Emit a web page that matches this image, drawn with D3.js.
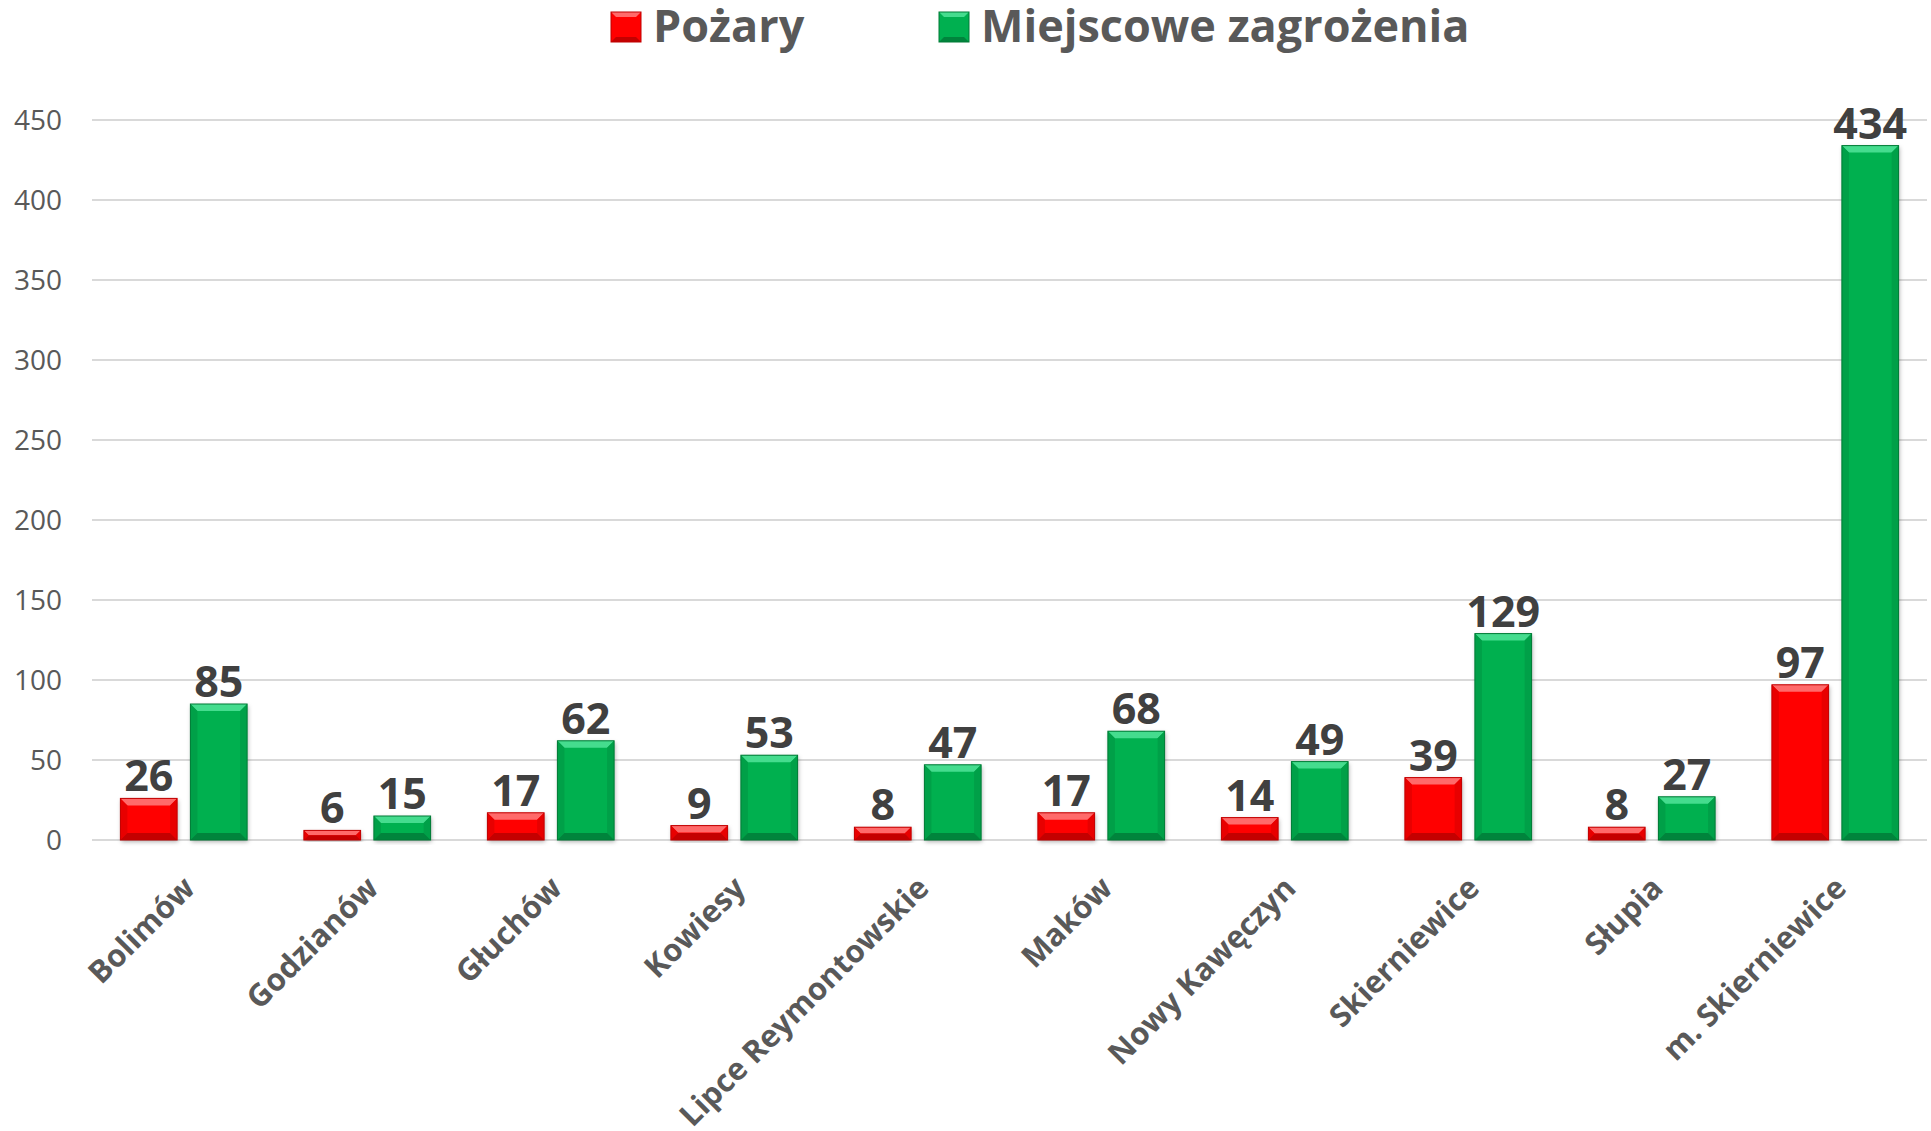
<!DOCTYPE html>
<html lang="pl">
<head>
    <meta charset="UTF-8">
    <title>Pożary i miejscowe zagrożenia</title>
    <script src="https://d3js.org/d3.v7.min.js"></script>
</head>
<body style="margin:0;background:#fff;">
<style>
    svg { font-family: "Open Sans", sans-serif; }
    .grid line { stroke: #d9d9d9; stroke-width: 2; }
    .yaxis text { fill: #595959; font-size: 28px; }
    .xaxis text { fill: #595959; font-size: 31px; font-weight: bold; }
    .val { fill: #404040; font-size: 43px; font-weight: bold; }
    .legend text { fill: #595959; font-size: 45px; font-weight: bold; }
</style>

<div id="chart"></div>

<script>
    // data
    var gminy = ["Bolimów", "Godzianów", "Głuchów", "Kowiesy", "Lipce Reymontowskie",
                 "Maków", "Nowy Kawęczyn", "Skierniewice", "Słupia", "m. Skierniewice"];
    var pozary = [26, 6, 17, 9, 8, 17, 14, 39, 8, 97];
    var zagrozenia = [85, 15, 62, 53, 47, 68, 49, 129, 27, 434];
    var seriesNames = ["Pożary", "Miejscowe zagrożenia"];
    var yTicks = [0, 50, 100, 150, 200, 250, 300, 350, 400, 450];

    // colors: main, top bevel, side, bottom, border
    var palette = {
        "Pożary": {main: "#ff0000", top: "#ff6a6a", side: "#e80000", bottom: "#c40000", line: "#c00000"},
        "Miejscowe zagrożenia": {main: "#00b050", top: "#45dc8e", side: "#00a048", bottom: "#00843c", line: "#007a36"}
    };

    var W = 1931, H = 1131;
    var plotLeft = 92, plotRight = 1927, plotTop = 120, plotBottom = 840;

    var svg = d3.select("#chart").append("svg")
        .attr("width", W)
        .attr("height", H);

    var defs = svg.append("defs");
    var f = defs.append("filter").attr("id", "shadow")
        .attr("x", "-20%").attr("y", "-20%").attr("width", "140%").attr("height", "140%");
    f.append("feDropShadow").attr("dx", 1).attr("dy", 2).attr("stdDeviation", 2)
        .attr("flood-color", "#000").attr("flood-opacity", 0.3);

    var y = d3.scaleLinear().domain([0, 450]).range([plotBottom, plotTop]);
    var x0 = d3.scaleBand().domain(gminy).range([plotLeft, plotRight]);
    var pad = 28.4;
    var x1 = d3.scaleBand().domain(seriesNames)
        .range([pad, x0.bandwidth() - pad]).paddingInner(0.19);

    // grid lines
    svg.append("g").attr("class", "grid")
        .selectAll("line").data(yTicks).enter().append("line")
        .attr("x1", plotLeft).attr("x2", plotRight)
        .attr("y1", function(d){ return y(d); })
        .attr("y2", function(d){ return y(d); });

    // y axis labels
    var yAxis = svg.append("g").attr("class", "yaxis")
        .attr("transform", "translate(62,0)")
        .call(d3.axisLeft(y).tickValues(yTicks).tickSize(0).tickPadding(0));
    yAxis.attr("font-family", null).attr("font-size", null);
    yAxis.select(".domain").remove();
    yAxis.selectAll("text").attr("dy", "0.35em");

    // x axis labels
    var xAxis = svg.append("g").attr("class", "xaxis")
        .attr("transform", "translate(0," + plotBottom + ")")
        .call(d3.axisBottom(x0).tickSize(0));
    xAxis.attr("font-family", null).attr("font-size", null);
    xAxis.select(".domain").remove();
    xAxis.selectAll("text")
        .style("text-anchor", "end")
        .attr("dy", null).attr("y", 0)
        .attr("transform", "translate(13,50) rotate(-45)");

    // table of bars
    var rows = [];
    gminy.forEach(function(g, i){
        rows.push({gmina: g, s: seriesNames[0], v: pozary[i]});
        rows.push({gmina: g, s: seriesNames[1], v: zagrozenia[i]});
    });

    var bars = svg.append("g").selectAll("g.bar").data(rows).enter().append("g")
        .attr("class", "bar")
        .attr("transform", function(d){ return "translate(" + (x0(d.gmina) + x1(d.s)) + "," + y(d.v) + ")"; });

    var bw = x1.bandwidth();
    bars.each(function(d){
        var g = d3.select(this);
        var h = plotBottom - y(d.v);
        var b = Math.min(7, h / 2);
        var c = palette[d.s];
        g.append("rect").attr("width", bw).attr("height", h)
            .attr("fill", c.main).attr("filter", "url(#shadow)");
        // bevels
        g.append("polygon").attr("fill", c.top)
            .attr("points", [[0,0],[bw,0],[bw-b,b],[b,b]].join(" "));
        g.append("polygon").attr("fill", c.side)
            .attr("points", [[0,0],[b,b],[b,h-b],[0,h]].join(" "));
        g.append("polygon").attr("fill", c.side)
            .attr("points", [[bw,0],[bw-b,b],[bw-b,h-b],[bw,h]].join(" "));
        g.append("polygon").attr("fill", c.bottom)
            .attr("points", [[0,h],[b,h-b],[bw-b,h-b],[bw,h]].join(" "));
        g.append("rect").attr("width", bw).attr("height", h)
            .attr("fill", "none").attr("stroke", c.line).attr("stroke-width", 1);
    });

    // value labels
    svg.append("g").selectAll("text").data(rows).enter().append("text")
        .attr("class", "val")
        .attr("text-anchor", "middle")
        .attr("x", function(d){ return x0(d.gmina) + x1(d.s) + bw / 2; })
        .attr("y", function(d){ return y(d.v) - 7; })
        .text(function(d){ return d.v; });

    // legend
    var legendX = [611, 939];
    var lg = svg.append("g").attr("class", "legend").selectAll("g").data(seriesNames).enter().append("g")
        .attr("transform", function(d, i){ return "translate(" + legendX[i] + ",12)"; });
    lg.each(function(d){
        var g = d3.select(this);
        var c = palette[d], s = 30, b = 5;
        g.append("rect").attr("width", s).attr("height", s).attr("fill", c.main);
        g.append("polygon").attr("fill", c.top).attr("points", [[0,0],[s,0],[s-b,b],[b,b]].join(" "));
        g.append("polygon").attr("fill", c.bottom).attr("points", [[0,s],[b,s-b],[s-b,s-b],[s,s]].join(" "));
        g.append("rect").attr("width", s).attr("height", s).attr("fill", "none").attr("stroke", c.line);
    });
    lg.append("text").attr("x", 42).attr("y", 30).text(function(d){ return d; });
</script>
</body>
</html>
